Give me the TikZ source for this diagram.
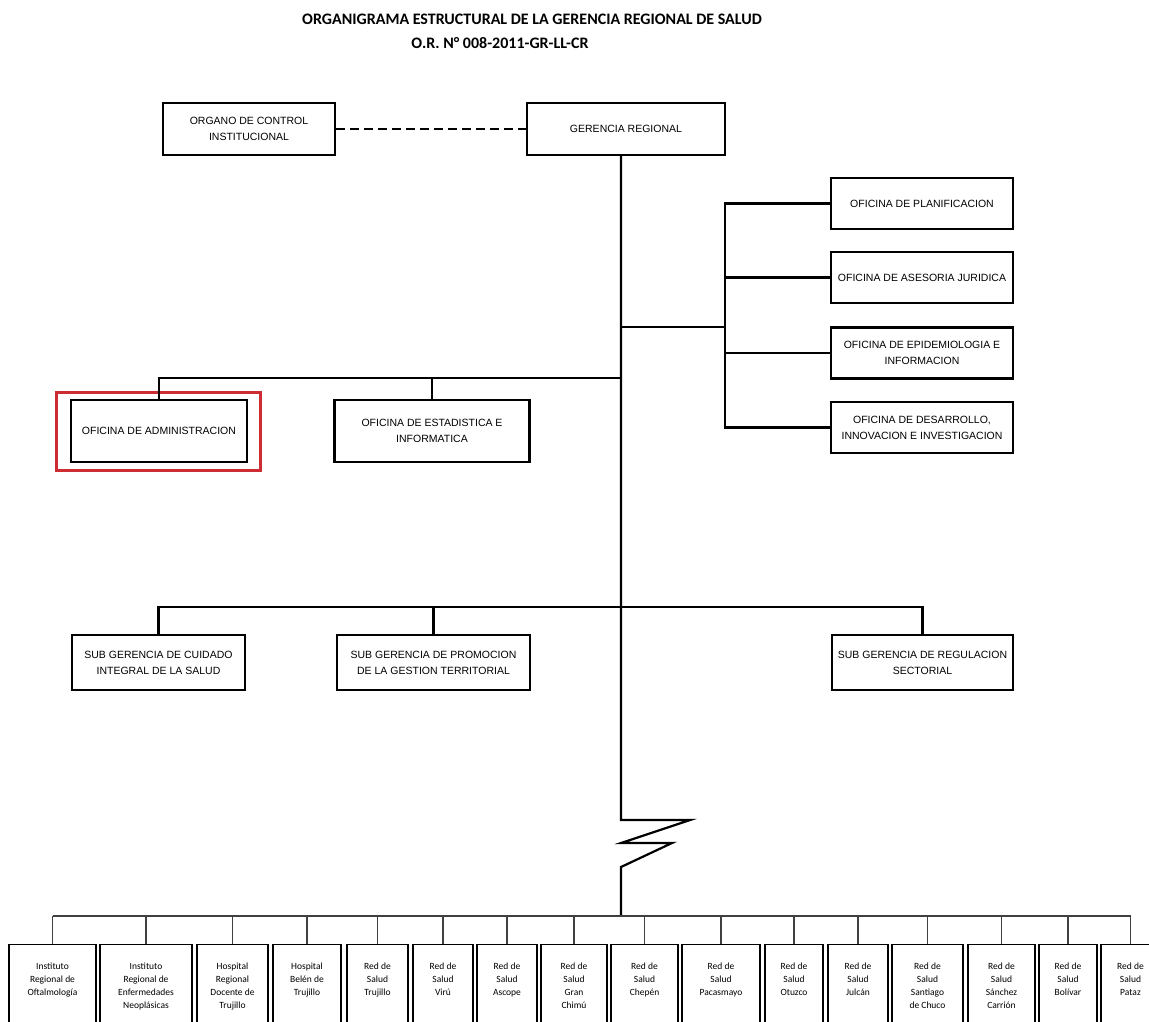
\documentclass[tikz,border=0pt]{standalone}
\usepackage{fontspec}
\setmainfont{Carlito}
\newfontfamily\arial{Liberation Sans}
\definecolor{rojo}{RGB}{205,45,50}
\begin{document}
\begin{tikzpicture}[x=1pt,y=-1pt]
	\tikzset{caja/.style={draw,line width=2.2pt,align=center,inner sep=0pt,font=\arial\fontsize{10.5}{16}\selectfont},
		linea/.style={line width=2.2pt},
		base/.style={draw,line width=1.4pt,anchor=north,minimum height=100pt,inner sep=0pt},
		fina/.style={line width=1.3pt,color=black!75}}
	\useasboundingbox (0,0) rectangle (1149,1021);
	\clip (0,0) rectangle (1149,1021);
	% titulo
	\node[font=\bfseries\fontsize{16}{18}\selectfont] (titulo) at (532,19) {ORGANIGRAMA ESTRUCTURAL DE LA GERENCIA REGIONAL DE SALUD};
	\node[font=\bfseries\fontsize{16}{18}\selectfont] (ordenanza) at (500,43) {O.R. N° 008-2011-GR-LL-CR};
	% cabecera
	\node[caja,minimum width=172pt,minimum height=52pt] (oci) at (249,129) {ORGANO DE CONTROL\\INSTITUCIONAL};
	\node[caja,minimum width=198pt,minimum height=52pt] (gerencia) at (626,129) {GERENCIA REGIONAL};
	\draw[line width=2.5pt,dash pattern=on 9pt off 5pt] (oci.east) -- (gerencia.west);
	% oficinas de la derecha
	\node[caja,minimum width=182pt,minimum height=51pt] (plan) at (922,203.5) {OFICINA DE PLANIFICACION};
	\node[caja,minimum width=182pt,minimum height=51pt] (asesoria) at (922,277.5) {OFICINA DE ASESORIA JURIDICA};
	\node[caja,minimum width=182pt,minimum height=51pt] (epidem) at (922,353) {OFICINA DE EPIDEMIOLOGIA E\\INFORMACION};
	\node[caja,minimum width=182pt,minimum height=51pt] (desarrollo) at (922,427.5) {OFICINA DE DESARROLLO,\\INNOVACION E INVESTIGACION};
	% oficinas de la izquierda
	\node[caja,minimum width=176pt,minimum height=62pt] (admin) at (159,431) {OFICINA DE ADMINISTRACION};
	\node[draw=rojo,line width=3pt,minimum width=204pt,minimum height=78pt,inner sep=0pt] (marca) at (158,431) {};
	\node[caja,minimum width=195pt,minimum height=62pt] (estadistica) at (432,431) {OFICINA DE ESTADISTICA E\\INFORMATICA};
	% sub gerencias
	\node[caja,minimum width=173pt,minimum height=55pt] (cuidado) at (158.5,662.5) {SUB GERENCIA DE CUIDADO\\INTEGRAL DE LA SALUD};
	\node[caja,minimum width=193pt,minimum height=55pt] (promocion) at (433.5,662.5) {SUB GERENCIA DE PROMOCION\\DE LA GESTION TERRITORIAL};
	\node[caja,minimum width=181pt,minimum height=55pt] (regulacion) at (922.5,662.5) {SUB GERENCIA DE REGULACION\\SECTORIAL};
	% tronco con quiebre
	\coordinate (z1) at (621,820);
	\coordinate (z2) at (690,820);
	\coordinate (z3) at (621,843);
	\coordinate (z4) at (672,843);
	\coordinate (z5) at (621,867);
	\coordinate (r0) at (621,916);
	\draw[linea] (gerencia.south -| z1) -- (z1) -- (z2) -- (z3) -- (z4) -- (z5) -- (r0);
	% ramas
	\coordinate (d0) at (621,327);
	\coordinate (d1) at (725,327);
	\draw[linea] (d0) -- (d1);
	\draw[linea] (plan.west) -- (plan.west -| d1) -- (desarrollo.west -| d1) -- (desarrollo.west);
	\draw[linea] (asesoria.west -| d1) -- (asesoria.west);
	\draw[linea] (epidem.west -| d1) -- (epidem.west);
	\coordinate (i0) at (621,378);
	\draw[linea] (i0) -| (admin.north);
	\draw[linea] (i0 -| estadistica.north) -- (estadistica.north);
	\coordinate (s0) at (621,607);
	\draw[linea] (s0) -| (cuidado.north);
	\draw[linea] (s0) -| (regulacion.north);
	\draw[linea] (s0 -| promocion.north) -- (promocion.north);
	% organos desconcentrados
	\foreach \i/\l/\r/\txt in {1/9/96/{Instituto\\Regional de\\Oftalmología},
		2/100/192/{Instituto\\Regional de\\Enfermedades\\Neoplásicas},
		3/197/268/{Hospital\\Regional\\Docente de\\Trujillo},
		4/273/341/{Hospital\\Belén de\\Trujillo},
		5/347/408/{Red de\\Salud\\Trujillo},
		6/413/473/{Red de\\Salud\\Virú},
		7/477/537/{Red de\\Salud\\Ascope},
		8/541/607/{Red de\\Salud\\Gran\\Chimú},
		9/611/678/{Red de\\Salud\\Chepén},
		10/682/760/{Red de\\Salud\\Pacasmayo},
		11/765/823/{Red de\\Salud\\Otuzco},
		12/828/888/{Red de\\Salud\\Julcán},
		13/892/963/{Red de\\Salud\\Santiago\\de Chuco},
		14/968/1035/{Red de\\Salud\\Sánchez\\Carrión},
		15/1039/1097/{Red de\\Salud\\Bolívar},
		16/1101/1160/{Red de\\Salud\\Pataz}}{
		\node[base,minimum width={(\r-\l)*1pt}] (b\i) at ({(\l+\r)/2},944) {};
		\node[anchor=north,align=center,inner sep=0pt,font=\fontsize{9.5}{13}\selectfont] (t\i) at ([yshift=-19pt]b\i.north) {\txt};
		\draw[fina] (b\i.north |- r0) -- (b\i.north);
	}
	\draw[fina] (b1.north |- r0) -- (b16.north |- r0);
\end{tikzpicture}
\end{document}
